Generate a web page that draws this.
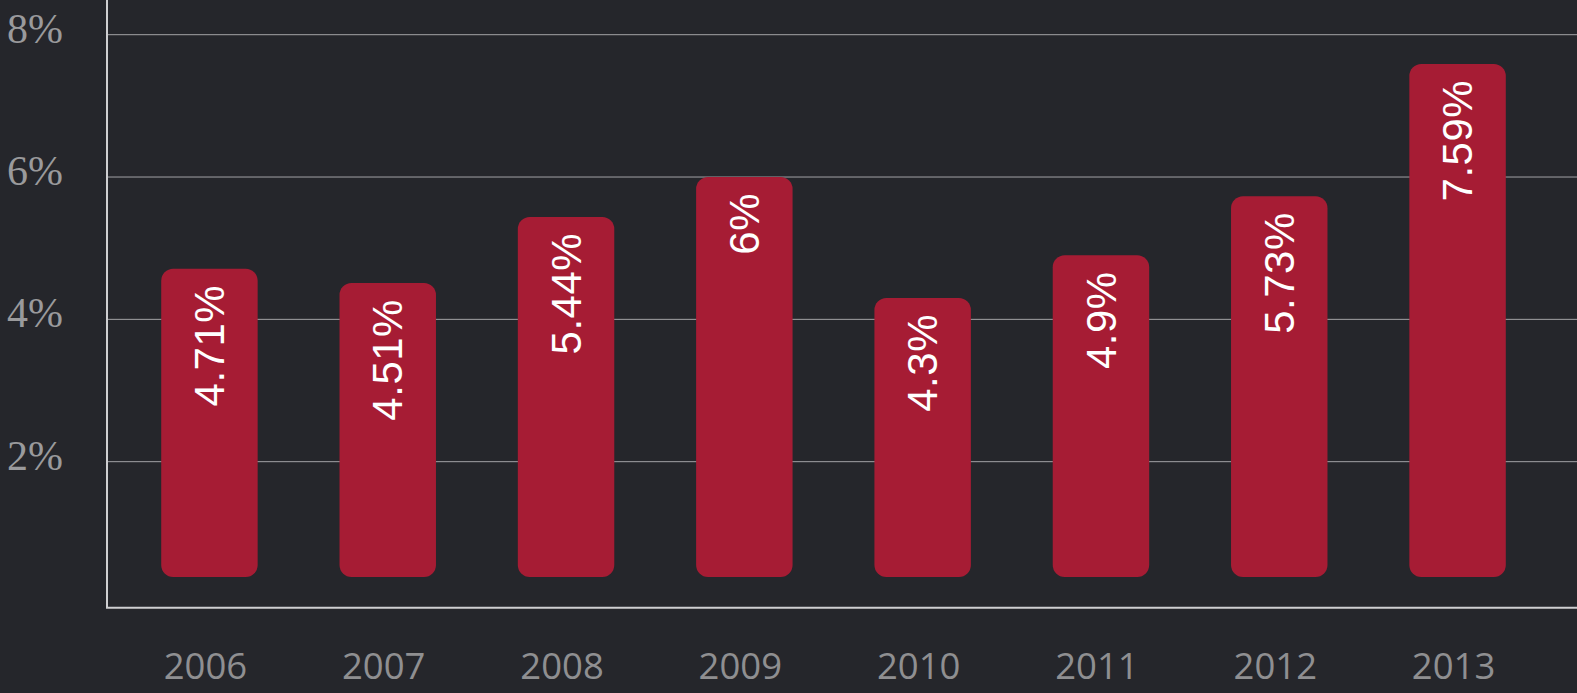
<!DOCTYPE html>
<html>
<head>
<meta charset="utf-8">
<script src="https://cdn.jsdelivr.net/npm/d3@7"></script>
<style>
  html, body { margin: 0; padding: 0; background: #25262b; overflow: hidden; }
  svg { display: block; }
</style>
</head>
<body>
<div id="chart"></div>
<script>
// Data
const years = ["2006", "2007", "2008", "2009", "2010", "2011", "2012", "2013"];
const rates = [4.71, 4.51, 5.44, 6, 4.3, 4.9, 5.73, 7.59];
const yTicks = [2, 4, 6, 8];

function draw() {
  // Dimensions
  const dimensions = {
    width: 1577,
    height: 693,
    left: 107,
    right: 1560,
    top: 34.7,
    zeroY: 604,
    axisY: 607.7,
    barGap: 27,
  };

  const svg = d3
    .select("#chart")
    .append("svg")
    .attr("width", dimensions.width)
    .attr("height", dimensions.height);

  svg
    .append("rect")
    .attr("width", dimensions.width)
    .attr("height", dimensions.height)
    .attr("fill", "#25262b");

  // Scales
  const xScale = d3
    .scaleBand()
    .domain(years)
    .range([dimensions.left, dimensions.right])
    .paddingInner(0.459)
    .paddingOuter(0.304);

  const yScale = d3
    .scaleLinear()
    .domain([0, 8])
    .range([dimensions.zeroY, dimensions.top]);

  // Gridlines
  svg
    .append("g")
    .selectAll("line")
    .data(yTicks)
    .join("line")
    .attr("x1", dimensions.left)
    .attr("x2", dimensions.width)
    .attr("y1", (d) => yScale(d))
    .attr("y2", (d) => yScale(d))
    .attr("stroke", "#a3a3a6")
    .attr("stroke-width", 1);

  // Y labels
  svg
    .append("g")
    .selectAll("text")
    .data(yTicks)
    .join("text")
    .attr("x", 63)
    .attr("y", (d) => yScale(d) + 8)
    .attr("text-anchor", "end")
    .attr("fill", "#9a9a9c")
    .style("font-family", "'Liberation Serif', serif")
    .style("font-size", "42px")
    .text((d) => d + "%");

  // Bars
  const barBottom = yScale(0) - dimensions.barGap;
  svg
    .append("g")
    .selectAll("rect")
    .data(rates)
    .join("rect")
    .attr("x", (d, i) => xScale(years[i]))
    .attr("y", (d) => yScale(d))
    .attr("width", xScale.bandwidth())
    .attr("height", (d) => barBottom - yScale(d))
    .attr("rx", 12)
    .attr("fill", "#a61c34");

  // Bar labels
  svg
    .append("g")
    .selectAll("text")
    .data(rates)
    .join("text")
    .attr(
      "transform",
      (d, i) =>
        `translate(${xScale(years[i]) + xScale.bandwidth() / 2}, ${yScale(d) + 16}) rotate(-90)`
    )
    .attr("dy", "0.35em")
    .attr("text-anchor", "end")
    .attr("fill", "#ffffff")
    .style("font-family", "'Liberation Sans', Arial, sans-serif")
    .style("font-size", "42px")
    .style("letter-spacing", "0.5px")
    .text((d) => d + "%");

  // Axes
  svg
    .append("line")
    .attr("x1", dimensions.left)
    .attr("x2", dimensions.left)
    .attr("y1", 0)
    .attr("y2", dimensions.axisY)
    .attr("stroke", "#cfcfd1")
    .attr("stroke-width", 2);

  svg
    .append("line")
    .attr("x1", dimensions.left - 1)
    .attr("x2", dimensions.width)
    .attr("y1", dimensions.axisY)
    .attr("y2", dimensions.axisY)
    .attr("stroke", "#cfcfd1")
    .attr("stroke-width", 2);

  // X labels
  svg
    .append("g")
    .selectAll("text")
    .data(years)
    .join("text")
    .attr("x", (d) => xScale(d) + xScale.bandwidth() / 2 - 4)
    .attr("y", 679)
    .attr("text-anchor", "middle")
    .attr("fill", "#8f8f91")
    .style("font-family", "'Open Sans', sans-serif")
    .style("font-size", "36.5px")
    .text((d) => d);
}

draw();
</script>
</body>
</html>
